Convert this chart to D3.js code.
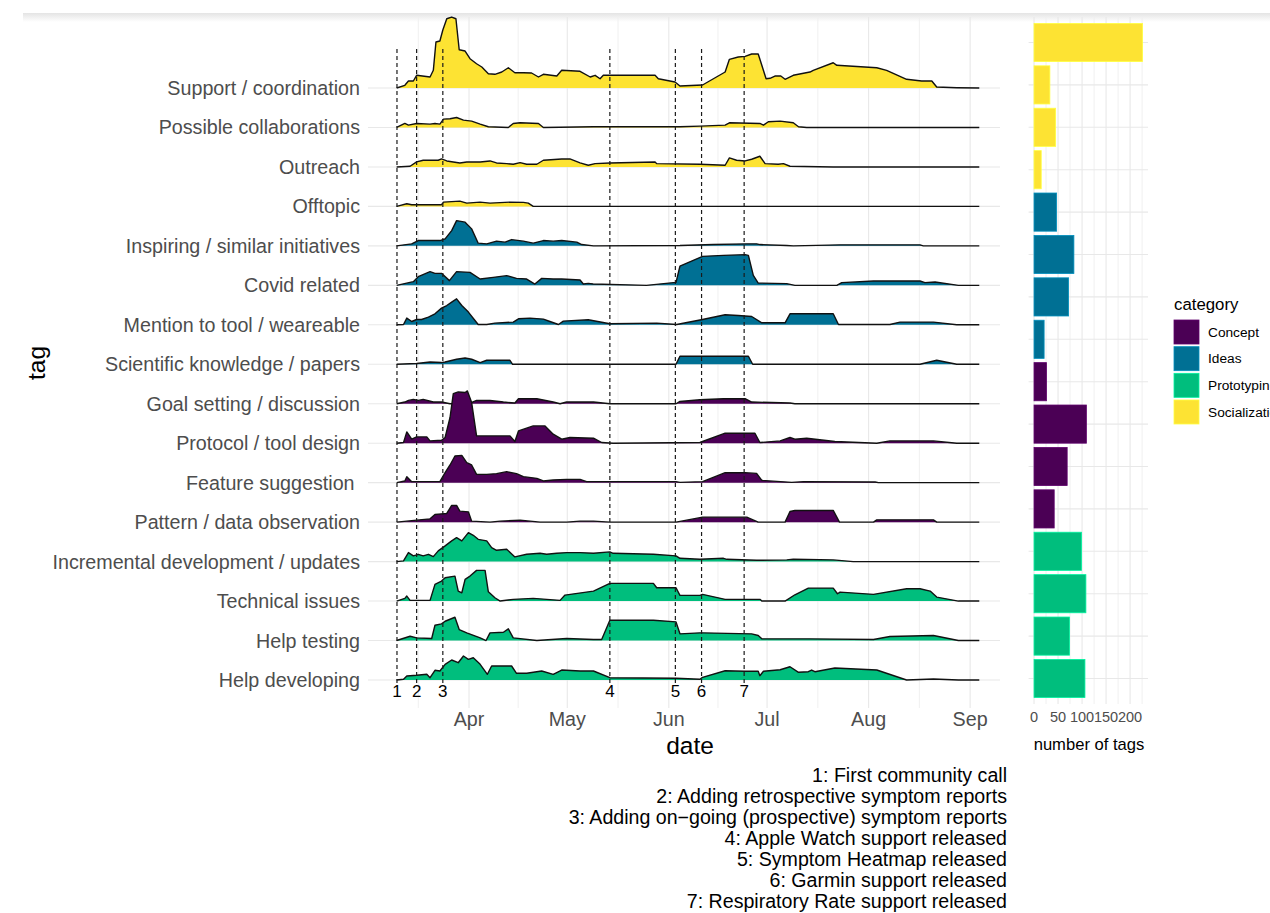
<!DOCTYPE html>
<html><head><meta charset="utf-8">
<script src="https://cdn.jsdelivr.net/npm/d3@7/dist/d3.min.js"></script>
<style>
html,body{margin:0;padding:0;background:#fff;}
svg{display:block;}
</style></head>
<body>
<svg id="chart" width="1270" height="913"></svg>
<script>
// ---------------- DATA ----------------
const tags = ["Support / coordination","Possible collaborations","Outreach","Offtopic",
  "Inspiring / similar initiatives","Covid related","Mention to tool / weareable","Scientific knowledge / papers",
  "Goal setting / discussion","Protocol / tool design","Feature suggestion ","Pattern / data observation",
  "Incremental development / updates","Technical issues","Help testing","Help developing"];
const tagCategory = ["Socialization","Socialization","Socialization","Socialization",
  "Ideas","Ideas","Ideas","Ideas","Concept","Concept","Concept","Concept",
  "Prototyping","Prototyping","Prototyping","Prototyping"];
const categories = ["Concept","Ideas","Prototyping","Socialization"];
const categoryColors = ["#4B0055","#007094","#00BE7D","#FDE333"];
const tagCounts = [226,33,45,15,47,83,72,21,26,109,69,42,99,108,74,106];
const countTicks = [0,50,100,150,200];
const monthTicks = ["2020-04-01","2020-05-01","2020-06-01","2020-07-01","2020-08-01","2020-09-01"];
const monthLabels = ["Apr","May","Jun","Jul","Aug","Sep"];
const eventDates = ["2020-03-10","2020-03-16","2020-03-24","2020-05-14","2020-06-03","2020-06-11","2020-06-24"];
const eventLabels = ["1","2","3","4","5","6","7"];
const captionLines = ["1: First community call","2: Adding retrospective symptom reports",
  "3: Adding on\u2212going (prospective) symptom reports","4: Apple Watch support released",
  "5: Symptom Heatmap released","6: Garmin support released","7: Respiratory Rate support released"];

// ridge series: [days since 2020-03-01, relative density]
const supportCoordination = [[8.9,0],[11.4,2.7],[12.5,7],[14,7],[15,12.7],[19.1,11],[20.1,17.7],[20.9,46],[22.1,47],[23,58],[24.2,69.3],[25.7,71],[27,69.3],[28,38.3],[29.8,37],[31.3,29.3],[33.3,24.3],[34.9,21],[36.9,14.3],[38.9,13.7],[41,16],[43,20.3],[45,15.3],[47.6,15.3],[50.1,15],[52.2,11],[53.7,13.7],[57.8,12],[59.3,17.7],[64.9,16.7],[68,11],[69.5,12.7],[71,9.3],[72,12.7],[87.8,12.7],[88.8,9.3],[93.9,6],[95.4,2],[102.3,3],[109.2,16],[110.5,28.7],[113.2,31],[115.3,31.7],[117.3,34],[119.3,34],[121.7,9.3],[122.9,9.7],[124.4,12],[126.2,12],[127.5,8.7],[130,12.7],[135.1,16],[136.1,17.7],[142.2,25.3],[143.3,22.7],[155.5,20.3],[158.5,17.7],[164.6,8.7],[169.2,7],[172.3,7],[173.8,1],[179.9,0.3],[186.8,0]];
const possibleCollaborations = [[8.9,0],[11.4,4],[12.5,2.3],[15,4],[19.1,3.3],[20.6,4],[22.1,3.3],[23.2,8.3],[25.2,8.7],[27.2,10],[29.3,7.3],[31.8,6.3],[34.4,3.3],[36.9,0.7],[43,0],[44.5,4],[46.6,4.7],[52.2,4],[53.7,0],[69,0.7],[95.4,0.7],[101.5,1.3],[109.2,2.3],[110.5,4.7],[119.8,4],[120.9,2.3],[122.4,5.7],[126,6.3],[130,4.7],[131.6,0.7],[134.1,0],[186.8,0]];
const outreach = [[8.9,0],[13,0.7],[15,5],[17,6.7],[21.6,6.7],[22.6,8],[24.2,6],[28.2,4],[30.3,5],[34.4,5],[37.4,6],[39.4,4],[42.5,3.3],[44.5,2.7],[46.6,4.3],[48.6,2.7],[51.7,2.7],[53.7,6.7],[59.3,8],[61.8,8],[64.9,4],[67.4,1.7],[69.5,3.3],[74,4],[87.8,5],[88.3,3.3],[101.5,2.7],[109.2,1.7],[110.5,9],[112.7,6.7],[115.3,6],[117.3,7.7],[119.8,10.7],[121.4,3.3],[125.4,2.7],[127,3.3],[129,0.7],[142.2,0],[186.8,0]];
const offtopic = [[8.9,0],[12,2.7],[13.5,1.7],[22.6,1.7],[23.2,4.3],[28.2,5.3],[30.3,3.3],[34.4,4.3],[37.4,3.3],[43.5,4.3],[47.6,4],[49.1,3.3],[50.6,0],[186.8,0]];
const inspiringInitiatives = [[8.9,0],[13.5,2],[15.5,5.3],[22.1,5.3],[23.7,7],[25.7,15.3],[27.2,25.3],[29.8,23.7],[31.8,17],[33.8,2.7],[36.4,2],[39.4,4.7],[42,3.7],[44,6.3],[47.6,4.7],[50.6,2.7],[53.7,5.3],[56.7,4.7],[59.3,5.3],[63.9,3.7],[65.4,1.3],[69,0],[95.4,0.3],[105.6,1.3],[115.8,2],[118.8,2],[119.9,1.3],[128,0.3],[130,0],[144.3,1],[168.7,1],[169.7,0],[186.8,0]];
const covidRelated = [[8.9,0],[14,3.7],[15.5,8.7],[19.1,13.7],[20.6,12],[22.6,12],[25,4.7],[27.2,13.7],[31.3,13],[34.4,6.3],[38.4,8],[42.5,9.7],[45.5,7],[48.6,6.3],[51.1,1.3],[53.2,7],[56.7,6.3],[59.3,6.3],[64.9,5.3],[65.9,1.3],[67.4,2],[68.9,1.3],[85.2,0],[94.2,3],[95.4,19.3],[102.3,29],[108.7,30],[115.3,30.7],[116.3,30],[117.8,10],[119.3,2.3],[128,1.7],[130.5,0],[143.3,0],[144.8,2.7],[154.5,4.3],[168.7,4.3],[170.2,2.7],[173.3,3.3],[180.4,0],[186.8,0]];
const mentionTool = [[8.9,0],[11,0.3],[12,6.7],[13.5,3.3],[15,5.3],[16.5,5.3],[18.6,7.7],[20.6,11],[22.6,16.7],[24.2,19.3],[25.7,22.7],[27.2,26],[28.8,19.3],[30.8,12.7],[33.8,0.3],[36.4,0.3],[38.9,1.7],[44.5,2.7],[46.1,6],[49.6,6.7],[53.7,5.7],[55.7,3.3],[58.3,0.3],[59.8,3.7],[67.4,5],[74,1],[88.3,1.7],[94.4,0.3],[102.3,5.3],[109.2,10],[113.2,9.3],[117.3,8.3],[120.4,2],[127.5,2],[129,11],[142.2,11],[143.8,0.3],[159.5,0.3],[162.6,2.7],[172.8,2.7],[179.9,0],[186.8,0]];
const scientificKnowledge = [[8.9,0],[15,0.7],[19.1,2.3],[22.6,1.7],[23.7,2.3],[27.2,5],[29.8,6.3],[31.8,5],[34.4,1.7],[36.4,4],[43.5,4],[44.3,0],[94.2,0],[95.4,8],[116.3,8],[117.6,0],[168.7,0],[173.8,4],[179.9,0],[186.8,0]];
const goalSetting = [[8.9,0],[11.4,1.7],[12.5,3.3],[14,4.3],[15.5,3.3],[17,4.3],[20.1,1.7],[22.6,1.7],[25.2,0],[31.3,0.7],[33.3,3.3],[37.4,3.3],[41.5,1.7],[45,0.7],[46.1,5],[51.7,5],[56.7,1.7],[58.8,0],[60.8,1.7],[69,1.7],[74,0],[94.2,0],[95.4,2.3],[101.5,4],[108.7,5],[115.3,5],[117.3,1.7],[129,0.7],[130.5,0],[186.8,0]];
const protocolDesign = [[8.9,0],[11,0.7],[12,11.3],[13.5,4],[15,6.3],[18.1,6.3],[19.1,2.3],[22.6,3],[23.7,5.7],[25.2,25.7],[26.2,49.7],[27.7,51.3],[29.8,50.7],[30.5,52.3],[31.8,40.7],[33.3,7.3],[36.4,7.3],[43.5,7.3],[45,1.7],[46.1,12.3],[50.6,17.3],[54.2,17.3],[56.7,9],[59.3,4],[61.8,5.7],[69,5],[71.5,0.7],[75,0],[101.5,0.7],[102.3,1.7],[109.2,10],[118.3,10],[119.8,0.7],[126,2.3],[129,5.7],[130.5,4],[134.1,5],[142.7,1.7],[155.5,0],[159.5,2.3],[172.8,2.3],[179.9,0],[186.8,0]];
const featureSuggestion = [[8.9,0],[11.4,1.7],[12,6],[13.5,1],[22.1,1],[23.7,10],[25.2,17.7],[26.7,26.7],[28.8,27.3],[30.3,20],[31.8,17.7],[33.3,8.3],[36.4,8.3],[39.4,9],[42.5,11],[45.5,9],[47.6,6],[51.7,4.3],[53.7,1.7],[56.7,2.7],[60.8,3.3],[64.9,3.3],[66.9,1],[94.2,1],[95.4,0.3],[102.3,1],[109.2,10],[115.3,10],[118.8,9.3],[120.4,2.3],[129.5,0.3],[133.1,1],[155,0.7],[156,0],[186.8,0]];
const patternObservation = [[8.9,0],[15,2],[19.1,3.3],[20.6,7.7],[22.6,8.3],[24.2,8.7],[25.7,16.7],[27.2,16.7],[28.2,11],[30.8,10.3],[31.8,1],[37.4,0],[40.5,1],[46.6,2],[52.7,0],[60.8,0],[64.9,1],[69,1],[74,0],[94.2,0],[102.3,5],[115.8,5],[119.3,0],[127.5,0],[129,10.7],[130.5,11.7],[142.2,11.7],[144.1,0],[154.5,0],[155.5,2.3],[172.8,2.3],[173.8,0],[186.8,0]];
const incrementalDevelopment = [[8.9,0],[11,0.7],[12.5,9],[14,5.7],[15.5,7.3],[17,5.7],[18.6,7.3],[20.1,5],[21.6,10.7],[23.7,15.7],[25.7,20.7],[27.2,24],[28.8,20.7],[30.8,29],[32.3,26.3],[33.8,22.3],[36.4,20.7],[37.9,14],[39.4,11.3],[42.5,12.3],[45,4.7],[48.6,7.3],[52.7,8.3],[54.7,7.3],[57.8,8.3],[60.8,9],[64.9,9],[69,8.3],[74,9.7],[75,8.3],[87.3,7.3],[94.2,5.7],[95.4,3.3],[101.5,2.3],[108.7,3.3],[109.7,2.3],[118.8,1.3],[128,1.7],[130,2.3],[142.2,1.7],[148.3,0],[186.8,0]];
const technicalIssues = [[8.9,0],[11.4,2.7],[12,5],[13,0.7],[19.1,0.7],[20.6,16.7],[22.6,20],[23.7,23.3],[26.7,25],[27.7,10],[28.8,8.3],[29.8,21.7],[31.3,25],[33.3,30.7],[35.9,30.7],[36.9,9.3],[38.9,3.3],[40.5,0],[44.5,1.7],[50.6,2.7],[58.8,0.7],[60.3,6],[69,10],[74,17.7],[87.3,17.7],[88.3,13.3],[94.2,13.3],[95.4,5.7],[101.5,5.7],[102.3,6.7],[109.2,1.7],[119.9,1.7],[120.4,0],[127.5,0],[130.5,6.3],[134.6,13],[142.2,13],[143.5,7.3],[144.3,9],[154.5,6.7],[164.6,12.3],[168.7,12.3],[171.8,10],[173.8,4],[180.4,0],[186.8,0]];
const helpTesting = [[8.9,0],[13,4.3],[15,2.7],[19.6,2],[20.6,15.3],[22.6,16.7],[23.7,19.3],[26.7,23.3],[28,11],[30.3,7.7],[34.4,2.7],[36.2,0],[37.4,7.7],[41.5,8.3],[43,11.7],[44.5,2.7],[51.7,0],[60.8,2],[69,1],[71.5,1],[74,20.3],[87.3,20.3],[94.2,18.7],[95.4,6.7],[101.5,7.7],[102.3,7.7],[117.3,6.7],[119.3,5],[120.4,1.7],[135.1,1.7],[154.5,1],[159.5,4],[172.8,5],[180.4,0],[186.8,0]];
const helpDeveloping = [[8.9,0],[11,0.7],[12,4],[15,4.7],[18.1,5.7],[19.1,2.3],[20.6,9.7],[22.1,9],[23.7,15.7],[25.7,20],[27.7,17.3],[29.3,24],[30.8,20.7],[32.3,22.3],[34.4,15.7],[36.6,5.7],[37.9,14],[44,14],[45.5,6.7],[48.6,6.7],[53.2,9],[56.7,5.7],[59.3,10],[64.9,9],[69,9],[74,2.3],[94.2,1.7],[101.5,0.7],[102.3,2.7],[109.2,9.3],[115.3,8.7],[119.3,8.7],[119.8,4.3],[120.9,8.7],[126,10.3],[129,13.3],[131.6,7.7],[134.6,8.3],[135.6,10],[136.6,8.3],[142.7,12],[155.5,10],[164.6,0],[172.8,1],[180.4,0],[186.8,0]];

const ridgeSeries = [supportCoordination,possibleCollaborations,outreach,offtopic,
  inspiringInitiatives,covidRelated,mentionTool,scientificKnowledge,
  goalSetting,protocolDesign,featureSuggestion,patternObservation,
  incrementalDevelopment,technicalIssues,helpTesting,helpDeveloping];

// ---------------- DRAW ----------------
const FONT = "'Liberation Sans', Arial, Helvetica, sans-serif";
const svg = d3.select("#chart");
const parse = d3.timeParse("%Y-%m-%d");
const day0 = parse("2020-03-01");
const toDate = d => new Date(day0.getTime() + d * 864e5);
const colorOf = d3.scaleOrdinal().domain(categories).range(categoryColors);

// top shadow band
const defs = svg.append("defs");
const grad = defs.append("linearGradient").attr("id","band").attr("x1",0).attr("y1",0).attr("x2",0).attr("y2",1);
grad.append("stop").attr("offset","0%").attr("stop-color","#e4e4e4");
grad.append("stop").attr("offset","100%").attr("stop-color","#ffffff");
svg.append("rect").attr("x",23).attr("y",13).attr("width",1247).attr("height",9).attr("fill","url(#band)");

// scales
const x = d3.scaleTime().domain([day0, parse("2020-09-10")]).range([367.5, 999.6]);
const yRow = d3.scalePoint().domain(tags).range([88, 680]);
const step = yRow.step();
const ry = d3.scaleLinear().domain([0, 39.5]).range([0, step]);
const panelTop = 17, panelBottom = 708, panelLeft = 368, panelRight = 1000;

const grid = svg.append("g");
// minor vertical gridlines (midpoints between months)
const monthStarts = d3.timeMonth.range(day0, parse("2020-10-01"));
const minors = [];
for (let i = 0; i < monthStarts.length - 1; i++) {
  const m = new Date((monthStarts[i].getTime() + monthStarts[i+1].getTime()) / 2);
  if (x(m) < panelRight) minors.push(m);
}
grid.selectAll(".vmin").data(minors).join("line")
  .attr("x1", d => x(d)).attr("x2", d => x(d)).attr("y1", panelTop).attr("y2", panelBottom)
  .attr("stroke", "#f0f0f0").attr("stroke-width", 1);
grid.selectAll(".vmaj").data(monthTicks.map(parse)).join("line")
  .attr("x1", d => x(d)).attr("x2", d => x(d)).attr("y1", panelTop).attr("y2", panelBottom)
  .attr("stroke", "#e8e8e8").attr("stroke-width", 1.1);
grid.selectAll(".hmaj").data(tags).join("line")
  .attr("x1", panelLeft).attr("x2", panelRight).attr("y1", d => yRow(d)).attr("y2", d => yRow(d))
  .attr("stroke", "#e8e8e8").attr("stroke-width", 1.1);

// ridges
const ridges = svg.append("g");
tags.forEach((t, i) => {
  const base = yRow(t);
  const data = ridgeSeries[i];
  const area = d3.area().x(d => x(toDate(d[0]))).y0(base).y1(d => base - ry(d[1]));
  const line = d3.line().x(d => x(toDate(d[0]))).y(d => base - ry(d[1]));
  const g = ridges.append("g");
  g.append("path").datum(data).attr("d", area).attr("fill", colorOf(tagCategory[i]));
  g.append("path").datum(data).attr("d", line).attr("fill", "none")
    .attr("stroke", "#111").attr("stroke-width", 1.4).attr("stroke-linejoin", "round");
});

// event dashed lines and numbers
const ev = svg.append("g");
ev.selectAll("line").data(eventDates).join("line")
  .attr("x1", d => x(parse(d))).attr("x2", d => x(parse(d)))
  .attr("y1", 49).attr("y2", 683)
  .attr("stroke", "#1a1a1a").attr("stroke-width", 1.2).attr("stroke-dasharray", "4,3");
ev.selectAll("text").data(eventDates).join("text")
  .attr("x", d => x(parse(d))).attr("y", 691)
  .attr("text-anchor", "middle").attr("dominant-baseline", "central")
  .attr("font-family", FONT).attr("font-size", 17).attr("fill", "#000")
  .text((d, i) => eventLabels[i]);

// tag labels
svg.append("g").selectAll("text").data(tags).join("text")
  .attr("x", 360).attr("y", d => yRow(d))
  .attr("text-anchor", "end").attr("dominant-baseline", "central")
  .style("white-space", "pre")
  .attr("font-family", FONT).attr("font-size", 19.7).attr("fill", "#4D4D4D")
  .text(d => d);

// month labels
svg.append("g").selectAll("text").data(monthTicks).join("text")
  .attr("x", d => x(parse(d))).attr("y", 719)
  .attr("text-anchor", "middle").attr("dominant-baseline", "central")
  .attr("font-family", FONT).attr("font-size", 19.7).attr("fill", "#4D4D4D")
  .text((d, i) => monthLabels[i]);

// axis titles
svg.append("text").attr("x", 690).attr("y", 745).attr("text-anchor", "middle").attr("dominant-baseline", "central")
  .attr("font-family", FONT).attr("font-size", 24.5).attr("fill", "#000").text("date");
svg.append("text").attr("transform", "translate(36,363) rotate(-90)").attr("text-anchor", "middle")
  .attr("dominant-baseline", "central").attr("font-family", FONT).attr("font-size", 24.5).attr("fill", "#000").text("tag");

// caption
svg.append("g").selectAll("text").data(captionLines).join("text")
  .attr("x", 1007).attr("y", (d, i) => 775 + i * 21)
  .attr("text-anchor", "end").attr("dominant-baseline", "central")
  .attr("font-family", FONT).attr("font-size", 19.6).attr("fill", "#000")
  .text(d => d);

// ---------------- BAR CHART ----------------
const maxCount = d3.max(tagCounts);
const xb = d3.scaleLinear().domain([-0.05 * maxCount, maxCount * 1.05]).range([1028.6, 1148]);
const yb = d3.scalePoint().domain(tags).range([42.5, 678.5]);
const bandH = yb.step() * 0.9;
const bg = svg.append("g");
const minorCounts = d3.range(25, 240, 50);
bg.selectAll(".bmin").data(minorCounts).join("line")
  .attr("x1", d => xb(d)).attr("x2", d => xb(d)).attr("y1", 17).attr("y2", 704)
  .attr("stroke", "#f0f0f0").attr("stroke-width", 1);
bg.selectAll(".bmaj").data(countTicks).join("line")
  .attr("x1", d => xb(d)).attr("x2", d => xb(d)).attr("y1", 17).attr("y2", 704)
  .attr("stroke", "#e8e8e8").attr("stroke-width", 1.1);
bg.selectAll(".bh").data(tags).join("line")
  .attr("x1", 1028.6).attr("x2", 1148).attr("y1", d => yb(d)).attr("y2", d => yb(d))
  .attr("stroke", "#e8e8e8").attr("stroke-width", 1.1);
bg.selectAll(".bar").data(tags).join("rect")
  .attr("x", xb(0)).attr("y", d => yb(d) - bandH / 2)
  .attr("width", (d, i) => xb(tagCounts[i]) - xb(0)).attr("height", bandH)
  .attr("fill", (d, i) => colorOf(tagCategory[i]))
  .attr("stroke", (d, i) => d3.color(colorOf(tagCategory[i])).brighter(0.7))
  .attr("stroke-width", 0.8);
bg.selectAll(".btick").data(countTicks).join("text")
  .attr("x", d => xb(d)).attr("y", 717).attr("text-anchor", "middle").attr("dominant-baseline", "central")
  .attr("font-family", FONT).attr("font-size", 14.5).attr("fill", "#4D4D4D").text(d => d);
svg.append("text").attr("x", 1089).attr("y", 744).attr("text-anchor", "middle").attr("dominant-baseline", "central")
  .attr("font-family", FONT).attr("font-size", 16.6).attr("fill", "#000").text("number of tags");

// legend
const lg = svg.append("g");
lg.append("text").attr("x", 1174).attr("y", 304).attr("dominant-baseline", "central")
  .attr("font-family", FONT).attr("font-size", 16.8).attr("fill", "#000").text("category");
const ly = d3.scalePoint().domain(categories).range([332, 412]);
lg.selectAll("rect").data(categories).join("rect")
  .attr("x", 1174).attr("y", d => ly(d) - 12).attr("width", 25).attr("height", 24)
  .attr("fill", d => colorOf(d)).attr("stroke", d => d3.color(colorOf(d)).brighter(0.7)).attr("stroke-width", 0.8);
lg.selectAll("text.lab").data(categories).join("text").attr("class", "lab")
  .attr("x", 1208).attr("y", d => ly(d)).attr("dominant-baseline", "central")
  .attr("font-family", FONT).attr("font-size", 13.7).attr("fill", "#000").text(d => d);
</script>
</body></html>
